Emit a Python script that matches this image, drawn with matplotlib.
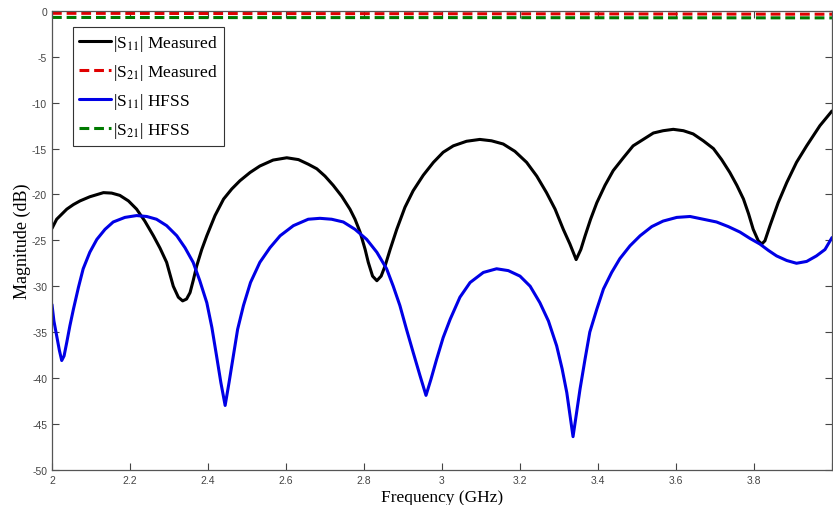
import matplotlib
matplotlib.use("Agg")
import matplotlib.pyplot as plt
import numpy as np

# |S11| measured (GHz, dB)
freq_s11_meas = [2.0, 2.012, 2.038, 2.055, 2.072, 2.097, 2.132, 2.153, 2.174, 2.196,
                 2.217, 2.238, 2.26, 2.277, 2.294, 2.311, 2.324, 2.335, 2.345, 2.354,
                 2.362, 2.371, 2.384, 2.397, 2.418, 2.44, 2.461, 2.482, 2.508, 2.533,
                 2.567, 2.602, 2.632, 2.657, 2.679, 2.7, 2.721, 2.743, 2.764, 2.777,
                 2.79, 2.803, 2.811, 2.822, 2.833, 2.844, 2.854, 2.867, 2.884, 2.905,
                 2.926, 2.952, 2.978, 3.003, 3.029, 3.063, 3.097, 3.127, 3.157, 3.187,
                 3.217, 3.243, 3.268, 3.29, 3.311, 3.328, 3.344, 3.356, 3.367, 3.381,
                 3.397, 3.418, 3.439, 3.465, 3.49, 3.516, 3.542, 3.567, 3.593, 3.619,
                 3.644, 3.67, 3.696, 3.717, 3.738, 3.756, 3.773, 3.786, 3.798, 3.811,
                 3.82, 3.828, 3.841, 3.862, 3.884, 3.909, 3.935, 3.969, 4.0]
s11_meas = [-23.7, -22.7, -21.6, -21.1, -20.7, -20.25, -19.8, -19.85, -20.1, -20.7,
            -21.6, -22.9, -24.5, -25.85, -27.4, -30.0, -31.2, -31.6, -31.4, -30.7,
            -29.4, -27.8, -26.0, -24.5, -22.3, -20.5, -19.4, -18.5, -17.6, -16.9,
            -16.25, -16.0, -16.2, -16.7, -17.2, -18.0, -19.0, -20.2, -21.6, -22.7,
            -24.1, -26.0, -27.4, -28.9, -29.4, -28.9, -27.8, -26.0, -23.8, -21.4,
            -19.6, -17.9, -16.5, -15.4, -14.7, -14.2, -14.0, -14.15, -14.5, -15.3,
            -16.5, -18.0, -19.8, -21.6, -23.8, -25.4, -27.1, -26.0, -24.5, -22.7,
            -20.9, -19.0, -17.4, -16.0, -14.7, -14.0, -13.3, -13.05, -12.9, -13.05,
            -13.4, -14.15, -15.0, -16.2, -17.6, -19.0, -20.5, -22.1, -23.8, -25.05,
            -25.4, -25.05, -23.4, -20.9, -18.7, -16.5, -14.7, -12.5, -10.9]

# |S11| HFSS
freq_s11_hfss = [2.0, 2.005, 2.012, 2.019, 2.025, 2.031, 2.038, 2.046, 2.055, 2.068,
                 2.08, 2.097, 2.115, 2.136, 2.157, 2.187, 2.217, 2.243, 2.268, 2.294,
                 2.32, 2.341, 2.362, 2.379, 2.397, 2.41, 2.422, 2.433, 2.444, 2.454,
                 2.465, 2.476, 2.491, 2.509, 2.533, 2.559, 2.585, 2.619, 2.657, 2.687,
                 2.717, 2.747, 2.777, 2.807, 2.833, 2.858, 2.875, 2.892, 2.909, 2.926,
                 2.944, 2.959, 2.972, 2.986, 3.003, 3.021, 3.046, 3.072, 3.106, 3.14,
                 3.17, 3.2, 3.226, 3.251, 3.273, 3.294, 3.308, 3.32, 3.336, 3.344,
                 3.354, 3.367, 3.379, 3.397, 3.414, 3.435, 3.456, 3.482, 3.508, 3.538,
                 3.567, 3.602, 3.636, 3.67, 3.704, 3.734, 3.764, 3.79, 3.815, 3.837,
                 3.858, 3.884, 3.909, 3.935, 3.96, 3.982, 4.0]
s11_hfss = [-32.0, -33.8, -35.4, -37.0, -38.1, -37.6, -36.1, -34.3, -32.5, -30.1,
            -28.1, -26.3, -24.9, -23.8, -23.0, -22.5, -22.3, -22.4, -22.7, -23.4,
            -24.5, -25.8, -27.4, -29.4, -31.8, -34.5, -37.6, -40.5, -43.0, -40.5,
            -37.6, -34.7, -32.1, -29.6, -27.4, -25.8, -24.5, -23.4, -22.7, -22.6,
            -22.7, -23.0, -23.8, -24.9, -26.3, -28.1, -30.0, -32.1, -34.7, -37.2,
            -39.8, -41.9, -40.1, -38.0, -35.6, -33.6, -31.2, -29.6, -28.5, -28.1,
            -28.3, -28.9, -30.0, -31.8, -33.8, -36.5, -39.0, -41.6, -46.4, -44.1,
            -41.2, -37.9, -35.0, -32.5, -30.3, -28.5, -27.0, -25.6, -24.5, -23.5,
            -22.9, -22.5, -22.4, -22.7, -23.0, -23.5, -24.1, -24.8, -25.4, -26.1,
            -26.7, -27.2, -27.5, -27.3, -26.7, -26.0, -24.7]

# |S21| (nearly flat)
freq_s21 = [2.0, 2.5, 3.0, 3.5, 4.0]
s21_meas = [-0.25, -0.28, -0.3, -0.32, -0.35]
s21_hfss = [-0.7, -0.72, -0.72, -0.74, -0.75]

x_ticks = [2, 2.2, 2.4, 2.6, 2.8, 3, 3.2, 3.4, 3.6, 3.8, 4]
x_tick_labels = ["2", "2.2", "2.4", "2.6", "2.8", "3", "3.2", "3.4", "3.6", "3.8", ""]

plt.rcParams["mathtext.fontset"] = "stix"
plt.rcParams["axes.unicode_minus"] = False

fig = plt.figure(figsize=(8.33, 5.06), dpi=100)
ax = fig.add_axes([0.0624, 0.0698, 0.9364, 0.9065])

style = dict(lw=2.2, solid_joinstyle="round", solid_capstyle="round")
ax.plot(freq_s11_meas, s11_meas, color="black", label="|S$_{11}$| Measured", **style)
ax.plot(freq_s21, s21_meas, color="#e00000", lw=2.2, ls=(0, (3.2, 1.6)),
        label="|S$_{21}$| Measured")
ax.plot(freq_s11_hfss, s11_hfss, color="#0000e6", label="|S$_{11}$| HFSS", **style)
ax.plot(freq_s21, s21_hfss, color="#007a00", lw=2.2, ls=(0, (3.2, 1.6)),
        label="|S$_{21}$| HFSS")

ax.set_xlim(2, 4)
ax.set_ylim(-50, 0)
ax.set_xticks(x_ticks)
ax.set_xticklabels(x_tick_labels)
ax.set_yticks(np.arange(-50, 1, 5))
ax.tick_params(direction="in", length=5, width=0.8, top=True, right=True,
               labelsize=7.5, colors="#444444", labelcolor="#444444")
for lab in ax.get_xticklabels() + ax.get_yticklabels():
    lab.set_family("Liberation Sans")
for sp in ax.spines.values():
    sp.set_color("#555555")
    sp.set_linewidth(0.9)

ax.set_xlabel("Frequency (GHz)", family="Liberation Serif", fontsize=12.5, labelpad=3)
ax.set_ylabel("Magnitude (dB)", family="Liberation Serif", fontsize=13, labelpad=0.5)

leg = ax.legend(loc="upper left", bbox_to_anchor=(0.027, 0.965), borderaxespad=0,
                prop={"family": "Liberation Serif", "size": 12.5},
                handlelength=1.85, handletextpad=0.1, labelspacing=0.52,
                borderpad=0.35, fancybox=False, framealpha=1, edgecolor="#333333")
leg.get_frame().set_linewidth(0.8)

fig.savefig("out.png", dpi=100)
